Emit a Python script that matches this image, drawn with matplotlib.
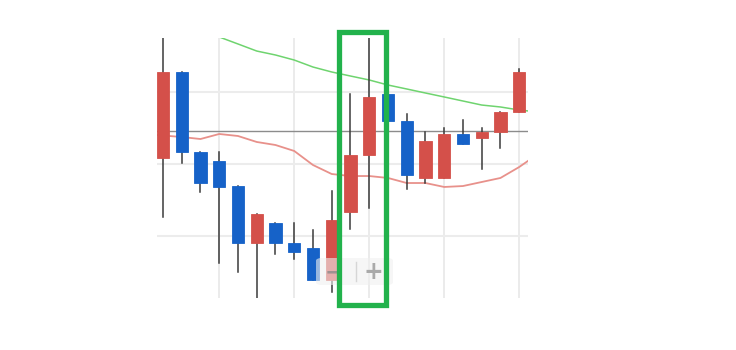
import numpy as np
import matplotlib
matplotlib.use('Agg')
import matplotlib.pyplot as plt
from matplotlib.patches import Rectangle, FancyBboxPatch
from matplotlib.lines import Line2D

# candle data (price units, grid every 10)
opens = [20.83, 32.78, 21.67, 20.42, 16.94, 9.03, 11.81, 9.03, 8.33, 3.89,
         13.33, 21.25, 29.72, 25.97, 18.06, 18.06, 24.17, 23.61, 24.44, 27.22]
closes = [32.78, 21.67, 17.36, 16.81, 9.03, 13.06, 9.03, 7.78, 3.89, 12.22,
          21.25, 29.31, 25.97, 18.47, 23.19, 24.17, 22.78, 24.44, 27.22, 32.78]
highs = [38.5, 32.78, 21.67, 21.67, 16.94, 13.06, 11.81, 11.81, 10.83, 16.25,
         29.72, 38.5, 38.5, 26.94, 24.44, 25.0, 26.11, 25.0, 27.22, 33.19]
lows = [12.64, 20.14, 16.11, 6.25, 5.0, 1.0, 7.5, 6.81, 3.89, 2.22,
        10.97, 13.89, 25.0, 16.53, 17.36, 18.06, 22.78, 19.31, 22.22, 27.22]

# moving averages
slow_ma_x = list(range(2, 21))
slow_ma = [38.6, 37.64, 36.67, 35.69, 35.14, 34.44, 33.47, 32.78, 32.22, 31.67,
           30.97, 30.42, 29.86, 29.31, 28.75, 28.19, 27.92, 27.5, 27.22]
fast_ma_x = list(range(-1, 21))
fast_ma = [24.17, 23.96, 23.75, 23.47, 24.17, 23.89, 23.06, 22.64, 21.81, 19.86,
           18.61, 18.33, 18.33, 18.06, 17.36, 17.36, 16.81, 16.94, 17.5, 18.06,
           19.58, 21.39]

last_price = 24.65
grid_y = [10, 20, 30]
grid_x = [3, 7, 11, 15, 19]

W, H = 736, 350
fig = plt.figure(figsize=(W / 100, H / 100), dpi=100)
ax = fig.add_axes([157 / W, 1 - 298 / H, 371 / W, 260 / H])

up_col = '#d4504a'
down_col = '#1662c8'

for gx in grid_x:
    ax.axvline(gx, color='#e8e8e8', lw=1.2, zorder=0)
for gy in grid_y:
    ax.axhline(gy, color='#ececec', lw=1.5, zorder=0)

ax.axhline(last_price, color='#8c8c8c', lw=1.0, zorder=3)

ax.plot(fast_ma_x, fast_ma, color='#e8918b', lw=1.3, zorder=2)
ax.plot(slow_ma_x, slow_ma, color='#6fd46f', lw=1.1, zorder=2)

for i in range(len(opens)):
    o, c, hi, lo = opens[i], closes[i], highs[i], lows[i]
    col = up_col if c >= o else down_col
    ax.plot([i, i], [lo, hi], color='#3a3a3a', lw=1.1, zorder=4)
    ax.bar(i, abs(c - o), bottom=min(o, c), width=0.66, color=col,
           edgecolor=col, linewidth=0.6, zorder=5)

ax.set_xlim(-0.32, 19.47)
ax.set_ylim(1.39, 37.5)
ax.set_xticks([])
ax.set_yticks([])
for s in ax.spines.values():
    s.set_visible(False)


def fx(x):
    return x / W


def fy(y):
    return 1 - y / H


# zoom control overlay
ctrl = FancyBboxPatch((fx(316), fy(285)), fx(393) - fx(316), fy(258) - fy(285),
                      boxstyle='round,pad=0,rounding_size=0.008',
                      transform=fig.transFigure, facecolor='#f0f0f0',
                      edgecolor='none', alpha=0.6, zorder=10)
fig.add_artist(ctrl)
fig.add_artist(Line2D([fx(356), fx(356)], [fy(262), fy(281)], color='#d6d6d6',
                      lw=1, transform=fig.transFigure, zorder=11))
fig.text(fx(334), fy(272), '\u2212', fontsize=16, fontweight='bold',
         color='#888888', alpha=0.75, ha='center', va='center', zorder=11)
fig.text(fx(373), fy(272), '+', fontsize=17, fontweight='bold',
         color='#aaaaaa', ha='center', va='center', zorder=11)

# highlight box
box = Rectangle((fx(338.5), fy(304.5)), fx(385.5) - fx(338.5), fy(31.5) - fy(304.5),
                transform=fig.transFigure, fill=False, edgecolor='#22b24c',
                lw=3.8, zorder=12)
fig.add_artist(box)

fig.savefig('out.png', dpi=100)
